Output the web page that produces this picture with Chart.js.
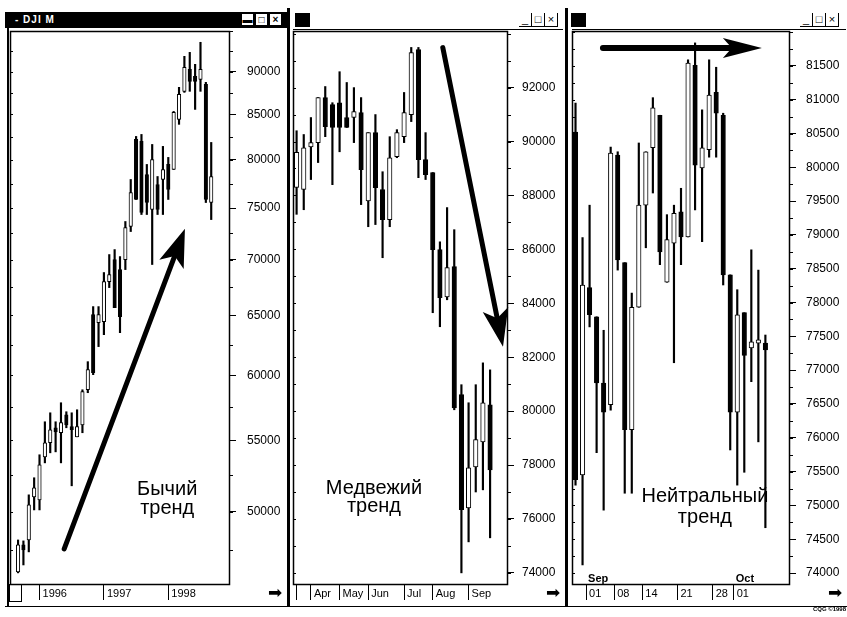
<!DOCTYPE html>
<html>
<head>
<meta charset="utf-8">
<script src="https://cdn.jsdelivr.net/npm/chart.js@4.4.1/dist/chart.umd.min.js"></script>
<style>
  body { margin: 0; background: #fff; font-family: "Liberation Sans", Arial, sans-serif; }
  #page { position: relative; width: 847px; height: 617px; overflow: hidden; background: #fff; }
  #page canvas { position: absolute; }
  .blk { position: absolute; background: #000; }
  .title1 { position: absolute; left: 5px; top: 12px; width: 282px; height: 16px; background: #000; }
  .title1 .name { position: absolute; left: 10px; top: 2px; color: #fff; font-size: 10px; font-weight: bold; letter-spacing: 1px; }
  .title1 .btn { position: absolute; top: 2px; width: 11px; height: 11px; background: #fff; color: #000;
                 font-size: 10px; line-height: 11px; text-align: center; font-weight: bold; }
  .btns { position: absolute; top: 13px; height: 13px; border-bottom: 1px solid #000; display: flex; }
  .btns span { display: block; width: 12px; height: 13px; border-right: 1px solid #000; font-size: 11px;
               line-height: 12px; text-align: center; color: #000; }
  .go { position: absolute; top: 582px; font-family: "DejaVu Sans"; font-size: 17px; color: #000; }
  .cap { position: absolute; right: 1px; top: 606px; font-size: 6px; font-weight: bold; color: #000; }
</style>
</head>
<body>
<div id="page">
  <div class="title1">
    <span class="name">- DJI M</span>
    <span class="btn" style="left:237px">▬</span>
    <span class="btn" style="left:251px">□</span>
    <span class="btn" style="left:265px">×</span>
  </div>

  <div class="blk" style="left:295px; top:13px; width:15px; height:14px"></div>
  <div class="btns" style="left:519px"><span>_</span><span>□</span><span>×</span></div>
  <div class="blk" style="left:293px; top:29px; width:270px; height:1px"></div>

  <div class="blk" style="left:571px; top:13px; width:15px; height:14px"></div>
  <div class="btns" style="left:800px"><span>_</span><span>□</span><span>×</span></div>
  <div class="blk" style="left:572px; top:29px; width:274px; height:1px"></div>

  <div class="blk" style="left:7px; top:28px; width:2px; height:578px"></div>
  <div class="blk" style="left:287px; top:8px; width:3px; height:598px"></div>
  <div class="blk" style="left:565px; top:8px; width:3px; height:598px"></div>
  <div class="blk" style="left:5px; top:606px; width:842px; height:1px"></div>
  <div style="position:absolute; left:9px; top:584px; width:11px; height:16px; border:1px solid #000; background:#fff"></div>

  <canvas id="bull" width="279" height="575" style="left:9px; top:30px"></canvas>
  <canvas id="bear" width="273" height="575" style="left:292px; top:30px"></canvas>
  <canvas id="flat" width="276" height="575" style="left:571px; top:30px"></canvas>

  <span class="go" style="left:268px">➡</span>
  <span class="go" style="left:546px">➡</span>
  <span class="go" style="left:828px">➡</span>
  <span class="cap">CQG ©1998</span>
</div>

<script>
// monthly DJI, Sep 1995 .. Sep 1998
const bullOpen  = [46150, 47840, 48160, 51010, 50810, 53810, 54830, 55940, 55570, 56920, 56020, 55270, 56160,
                   58850, 65060, 64370, 64450, 67990, 70020, 69090, 70020, 73180, 82200, 81980, 78440, 74860,
                   77400, 77920, 79500, 78970, 84430, 87650, 90260, 89420, 89060, 88470, 75560];
const bullHigh  = [48160, 48100, 51150, 52330, 53960, 56390, 57070, 56390, 57840, 57150, 57070, 57300, 58850,
                   61100, 65760, 65760, 68820, 70490, 70960, 70300, 73670, 77920, 82530, 82750, 79500, 81650,
                   78230, 81440, 80250, 85330, 88120, 91840, 92330, 90870, 93580, 88710, 81870];
const bullLow   = [46090, 46580, 47400, 50130, 50130, 53380, 54100, 54170, 53380, 55940, 51770, 55270, 55570,
                   58620, 60050, 62340, 63340, 67450, 65670, 63510, 69090, 72690, 75870, 74360, 74360, 69560,
                   74360, 74360, 75870, 78970, 83870, 87530, 87650, 85560, 87650, 75560, 73860];
const bullClose = [47840, 47530, 50470, 51630, 53240, 54830, 55790, 55640, 56320, 56160, 55790, 56020, 58700,
                   60450, 60210, 65060, 67990, 68630, 65670, 64890, 73080, 76580, 75870, 74560, 75560, 80030,
                   74860, 78970, 76890, 85220, 87300, 90500, 88830, 88830, 90260, 75870, 78230];
const bullTicks = [50000, 55000, 60000, 65000, 70000, 75000, 80000, 85000, 90000];
const bullYearAt = [4, 16, 28];
const bullYears  = ['1996', '1997', '1998'];

// weekly, Mar .. Sep 1998
const bearOpen  = [88300, 88220, 89800, 89960, 91630, 91370, 91440, 90890, 90890, 91070, 87800, 90330, 88220, 87100,
                   89440, 90180, 91000, 93410, 89330, 88850, 85990, 84240, 85360, 80610, 76410, 77930, 78860, 80230];
const bearHigh  = [90400, 90260, 90890, 91630, 92040, 91440, 92590, 92190, 92000, 91630, 90330, 91000, 88880, 90180,
                   90440, 91820, 93490, 93490, 90330, 88850, 86280, 87550, 86730, 80980, 80310, 80980, 81790, 81530];
const bearLow   = [87300, 87470, 88590, 89220, 90180, 88400, 89620, 90520, 89960, 87660, 86840, 86920, 85690, 86840,
                   89400, 89960, 90740, 88660, 88590, 83650, 83130, 84130, 80050, 74000, 75150, 77000, 77080, 75300];
const bearClose = [89600, 89770, 89960, 91630, 90550, 90520, 90520, 90520, 91110, 88960, 90330, 88290, 87100, 89400,
                   90330, 91070, 93300, 89330, 88770, 85990, 84210, 85320, 80120, 76340, 77900, 78940, 80310, 77820];
const bearTicks = [74000, 76000, 78000, 80000, 82000, 84000, 86000, 88000, 90000, 92000];
const bearMonthAt = [0, 2, 6, 10, 15, 19, 24];
const bearMonths  = ['', 'Apr', 'May', 'Jun', 'Jul', 'Aug', 'Sep'];

// daily, Sep .. Oct 1997
const flatOpen  = [80520, 75450, 78220, 77790, 76810, 76490, 80180, 78590, 76120, 77930, 79440, 80290, 80770, 78300,
                   78880, 79340, 78970, 81510, 79990, 80260, 81110, 80770, 78410, 76380, 77850, 77330, 77400, 77400];
const flatHigh  = [80950, 78960, 79440, 77790, 77590, 80300, 80230, 78590, 78140, 80360, 80230, 81030, 80770, 79300,
                   79440, 79690, 81590, 81840, 80850, 81590, 81480, 80800, 78410, 78190, 77850, 78780, 78480, 77520];
const flatLow   = [75300, 74120, 77640, 75780, 74930, 76410, 78480, 75180, 75180, 77930, 78810, 79620, 78560, 78300,
                   77110, 78560, 78970, 79370, 78900, 80150, 80150, 78260, 75820, 75300, 75490, 76830, 75940, 74670];
const flatClose = [75380, 78260, 77820, 76810, 76380, 80210, 78630, 76120, 77930, 79440, 80230, 80880, 78750, 78930,
                   79320, 78970, 81540, 80030, 80290, 81070, 80800, 78410, 76380, 77820, 77220, 77420, 77450, 77300];
const flatTicks = [74000, 74500, 75000, 75500, 76000, 76500, 77000, 77500, 78000, 78500, 79000, 79500,
                   80000, 80500, 81000, 81500];
const flatDayAt = [1.5, 5.5, 9.5, 14.5, 19.5, 22.5];
const flatDays  = ['01', '08', '14', '21', '28', '01'];

Chart.defaults.font.family = '"Liberation Sans", Arial, sans-serif';
Chart.defaults.color = '#000';

// frame, edge marks, arrow and captions drawn over each panel
const notes = {
    id: 'notes',
    afterDraw(chart, args, o)
    {
        const { ctx, chartArea: a, scales: { x, y } } = chart;
        ctx.save();
        ctx.strokeStyle = '#000';
        ctx.fillStyle = '#000';

        ctx.lineWidth = 1;
        ctx.beginPath();
        for (let v = Math.ceil(y.min / o.minor) * o.minor; v <= y.max; v += o.minor)
        {
            let py = Math.round(y.getPixelForValue(v)) + 0.5;
            ctx.moveTo(a.left, py); ctx.lineTo(a.left + 3, py);
            ctx.moveTo(a.right, py); ctx.lineTo(a.right + 3, py);
        }
        ctx.stroke();
        ctx.lineWidth = 1.5;
        ctx.strokeRect(a.left + 0.5, a.top + 0.5, a.right - a.left - 1, a.bottom - a.top - 1);

        let x0 = x.getPixelForValue(o.arrow.from[0]), y0 = y.getPixelForValue(o.arrow.from[1]);
        let x1 = x.getPixelForValue(o.arrow.to[0]), y1 = y.getPixelForValue(o.arrow.to[1]);
        let len = Math.hypot(x1 - x0, y1 - y0), ux = (x1 - x0) / len, uy = (y1 - y0) / len;
        let bx = x1 - ux * o.arrow.head, by = y1 - uy * o.arrow.head;
        ctx.lineWidth = o.arrow.width;
        ctx.lineCap = 'round';
        ctx.beginPath();
        ctx.moveTo(x0, y0);
        ctx.lineTo(bx + ux * 8, by + uy * 8);
        ctx.stroke();
        ctx.beginPath();
        ctx.moveTo(x1, y1);
        ctx.lineTo(bx - uy * o.arrow.half, by + ux * o.arrow.half);
        ctx.lineTo(bx + ux * 9, by + uy * 9);
        ctx.lineTo(bx + uy * o.arrow.half, by - ux * o.arrow.half);
        ctx.closePath();
        ctx.fill();

        ctx.font = '20px "Liberation Sans", Arial, sans-serif';
        ctx.textAlign = 'center';
        ctx.textBaseline = 'alphabetic';
        let tx = x.getPixelForValue(o.text.at[0]), ty = y.getPixelForValue(o.text.at[1]);
        o.text.lines.forEach((s, i) => ctx.fillText(s, tx, ty + i * o.text.gap));

        ctx.font = 'bold 11px "Liberation Sans", Arial, sans-serif';
        ctx.textAlign = 'left';
        o.tags.forEach(t => ctx.fillText(t.text, x.getPixelForValue(t.at) + 2, a.bottom - 3));
        ctx.restore();
    }
};

function candleChart(id, c)
{
    let idx = c.open.map((v, i) => i);

    new Chart(document.getElementById(id), {
        type: 'bar',
        data: {
            datasets: [
                {
                    data: idx.map(i => ({ x: i, y: [c.open[i], c.close[i]] })),
                    backgroundColor: idx.map(i => c.close[i] >= c.open[i] ? '#fff' : '#000'),
                    borderColor: '#000',
                    borderWidth: 1,
                    borderSkipped: false,
                    barThickness: c.body,
                    minBarLength: 2,
                    grouped: false,
                    order: 0,
                },
                {
                    data: idx.map(i => ({ x: i, y: [c.low[i], c.high[i]] })),
                    backgroundColor: '#000',
                    borderWidth: 0,
                    barThickness: 1.5,
                    grouped: false,
                    order: 1,
                },
            ],
        },
        options: {
            responsive: false,
            animation: false,
            events: [],
            layout: { autoPadding: false, padding: { left: 1, top: 1, right: 0, bottom: 0 } },
            plugins: {
                legend: { display: false },
                tooltip: { enabled: false },
                notes: c.notes,
            },
            scales: {
                x: {
                    type: 'linear',
                    min: c.xMin,
                    max: c.xMax,
                    offset: false,
                    afterBuildTicks: s => { s.ticks = c.xAt.map(v => ({ value: v })); },
                    afterFit: s => { s.height = 20; s.paddingLeft = 0; s.paddingRight = 0; },
                    ticks: {
                        autoSkip: false, maxRotation: 0, align: 'start', labelOffset: 3, padding: -13,
                        font: { size: 11 }, callback: (v, i) => c.xLabels[i],
                    },
                    grid: { offset: false, drawOnChartArea: false, tickLength: 15, color: '#000', lineWidth: 1 },
                    border: { display: false },
                },
                y: {
                    type: c.log ? 'logarithmic' : 'linear',
                    position: 'right',
                    min: c.yMin,
                    max: c.yMax,
                    afterBuildTicks: s => { s.ticks = c.yTicks.map(v => ({ value: v })); },
                    afterFit: s => { s.width = c.axisW; s.paddingTop = 0; s.paddingBottom = 0; },
                    ticks: { padding: c.pad, font: { size: 12 }, callback: v => String(v) },
                    grid: { drawOnChartArea: false, tickLength: 6, color: '#000' },
                    border: { display: false },
                },
            },
        },
        plugins: [notes],
    });
}

candleChart('bull', {
    open: bullOpen, high: bullHigh, low: bullLow, close: bullClose,
    log: true, yMin: 45350, yMax: 95000, yTicks: bullTicks,
    xMin: -1.5, xMax: 39.5, xAt: bullYearAt, xLabels: bullYears,
    body: 3.5, axisW: 58, pad: 11,
    notes: {
        minor: 2500,
        arrow: { from: [8.6, 47590], to: [31.1, 72950], head: 38, half: 13, width: 5 },
        text: { at: [27.8, 51150], lines: ['Бычий', 'тренд'], gap: 19 },
        tags: [],
    },
});

candleChart('bear', {
    open: bearOpen, high: bearHigh, low: bearLow, close: bearClose,
    log: false, yMin: 73550, yMax: 94100, yTicks: bearTicks,
    xMin: -0.5, xMax: 29.5, xAt: bearMonthAt, xLabels: bearMonths,
    body: 4.5, axisW: 57, pad: 8,
    notes: {
        minor: 1000,
        arrow: { from: [20.4, 93485], to: [28.8, 82386], head: 38, half: 13, width: 5 },
        text: { at: [10.8, 76930], lines: ['Медвежий', 'тренд'], gap: 18 },
        tags: [],
    },
});

candleChart('flat', {
    open: flatOpen, high: flatHigh, low: flatLow, close: flatClose,
    log: false, yMin: 73823, yMax: 82016, yTicks: flatTicks,
    xMin: -0.5, xMax: 30.5, xAt: flatDayAt, xLabels: flatDays,
    body: 4.5, axisW: 57, pad: 10,
    notes: {
        minor: 250,
        arrow: { from: [3.9, 81765], to: [26.5, 81765], head: 39, half: 10, width: 6 },
        text: { at: [18.4, 75050], lines: ['Нейтральный', 'тренд'], gap: 21 },
        tags: [{ at: 1.5, text: 'Sep' }, { at: 22.5, text: 'Oct' }],
    },
});
</script>
</body>
</html>
